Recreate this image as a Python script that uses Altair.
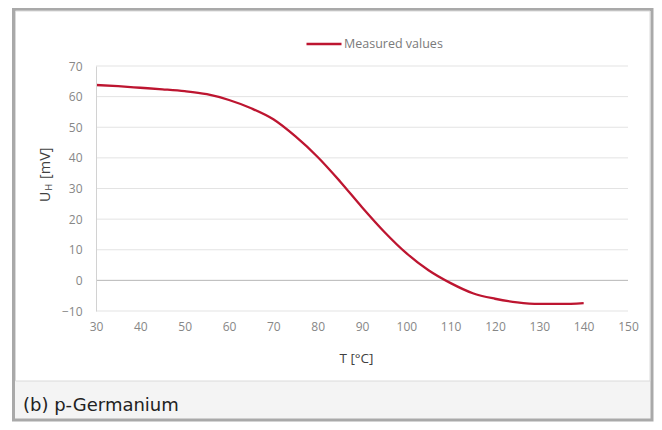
import altair as alt
import pandas as pd

# ---- data ----
temps = [30, 35, 40, 45, 50, 55, 60, 65, 70, 75, 80, 85, 90, 95, 100, 105, 110, 115, 120, 125, 130, 135, 140]
u_hall = [63.8, 63.4, 62.9, 62.4, 61.8, 60.8, 58.9, 56.2, 52.6, 47.0, 40.3, 32.4, 23.9, 15.9, 8.9, 3.3, -0.9, -4.2, -6.0, -7.2, -7.7, -7.7, -7.4]
y_ticks = [-10, 0, 10, 20, 30, 40, 50, 60, 70]
x_ticks = [30, 40, 50, 60, 70, 80, 90, 100, 110, 120, 130, 140, 150]
series_name = ["Measured values"]
x_title = "T [°C]"
y_title_parts = ["U", "H", "[mV]"]
caption = ["(b) p-Germanium"]

df = pd.DataFrame({"T": temps, "U": u_hall, "series": series_name * len(temps)})
grid_df = pd.DataFrame({"v": y_ticks})
zero_df = pd.DataFrame({"v": [0]})
one = pd.DataFrame({"k": [0]})

W, H = 532, 245
xs = alt.Scale(domain=[30, 150], nice=False, zero=False)
ys = alt.Scale(domain=[-10, 70], nice=False, zero=False)
FONT = "Open Sans"

y_axis = alt.Axis(
    values=y_ticks, title=None, grid=False, domain=True, domainColor="#d2d2d2",
    ticks=False, labelPadding=14, labelFontSize=12, labelColor="#878787",
    labelFont=FONT, zindex=1,
)

# ---- frame decoration ----
frame = alt.Chart(one).mark_rect(fill="#f4f4f4", stroke="#a9a9a9", strokeWidth=3).encode(
    x=alt.value(-82.5), x2=alt.value(556), y=alt.value(-56.5), y2=alt.value(354)
)
inner = alt.Chart(one).mark_rect(fill="white", stroke="#dadada", strokeWidth=1).encode(
    x=alt.value(-80.5), x2=alt.value(554), y=alt.value(-55), y2=alt.value(315)
)
cap = alt.Chart(pd.DataFrame({"t": caption})).mark_text(
    align="left", baseline="alphabetic", fontSize=18, font="DejaVu Sans", color="#222222"
).encode(text="t:N", x=alt.value(-73), y=alt.value(345))

# ---- gridlines ----
grid = alt.Chart(grid_df).mark_rule(color="#e3e3e3", strokeWidth=1).encode(
    y=alt.Y("v:Q", scale=ys, axis=y_axis)
)
zero = alt.Chart(zero_df).mark_rule(color="#bcbcbc", strokeWidth=1).encode(
    y=alt.Y("v:Q", scale=ys, axis=y_axis)
)

# ---- data line ----
line = alt.Chart(df).mark_line(interpolate="monotone", strokeWidth=2.3).encode(
    x=alt.X(
        "T:Q", scale=xs,
        axis=alt.Axis(
            values=x_ticks, title=x_title, grid=False, domain=False, ticks=False,
            labelPadding=10, labelFontSize=12, labelColor="#878787", labelFont=FONT,
            labelFlush=False,
            titleFontSize=13.5, titleColor="#404040", titleFont=FONT, titleFontWeight="normal",
            titleX=260, titleY=47, titleBaseline="middle", titleAlign="center", zindex=1,
        ),
    ),
    y=alt.Y("U:Q", scale=ys, axis=y_axis),
    color=alt.Color(
        "series:N", scale=alt.Scale(range=["#bd1530"]),
        legend=alt.Legend(
            title=None, orient="none", legendX=209, legendY=-41, padding=0,
            symbolType="stroke", symbolSize=1225, symbolStrokeWidth=2.3, labelOffset=1,
            labelFontSize=12.5, labelColor="#7a7a7a", labelFont=FONT,
        ),
    ),
)

# ---- y title with subscript ----
def ytxt(t, size, xpos, ypos):
    return alt.Chart(pd.DataFrame({"t": [t]})).mark_text(
        angle=270, align="left", baseline="alphabetic", fontSize=size, font=FONT, color="#404040"
    ).encode(text="t:N", x=alt.value(xpos), y=alt.value(ypos))

yt = ytxt(y_title_parts[0], 14, -46, 136) + ytxt(y_title_parts[1], 9, -44.5, 124.5) + ytxt(y_title_parts[2], 14.5, -46, 113)

chart = alt.layer(frame, inner, cap, grid, zero, line, yt).properties(
    width=W, height=H,
    padding={"left": 88, "top": 58, "right": 26, "bottom": 111},
    autosize=alt.AutoSizeParams(type="none"),
    background="white",
).configure_view(stroke=None)

chart.save("out.html", embed_options={"renderer": "svg", "actions": False})
